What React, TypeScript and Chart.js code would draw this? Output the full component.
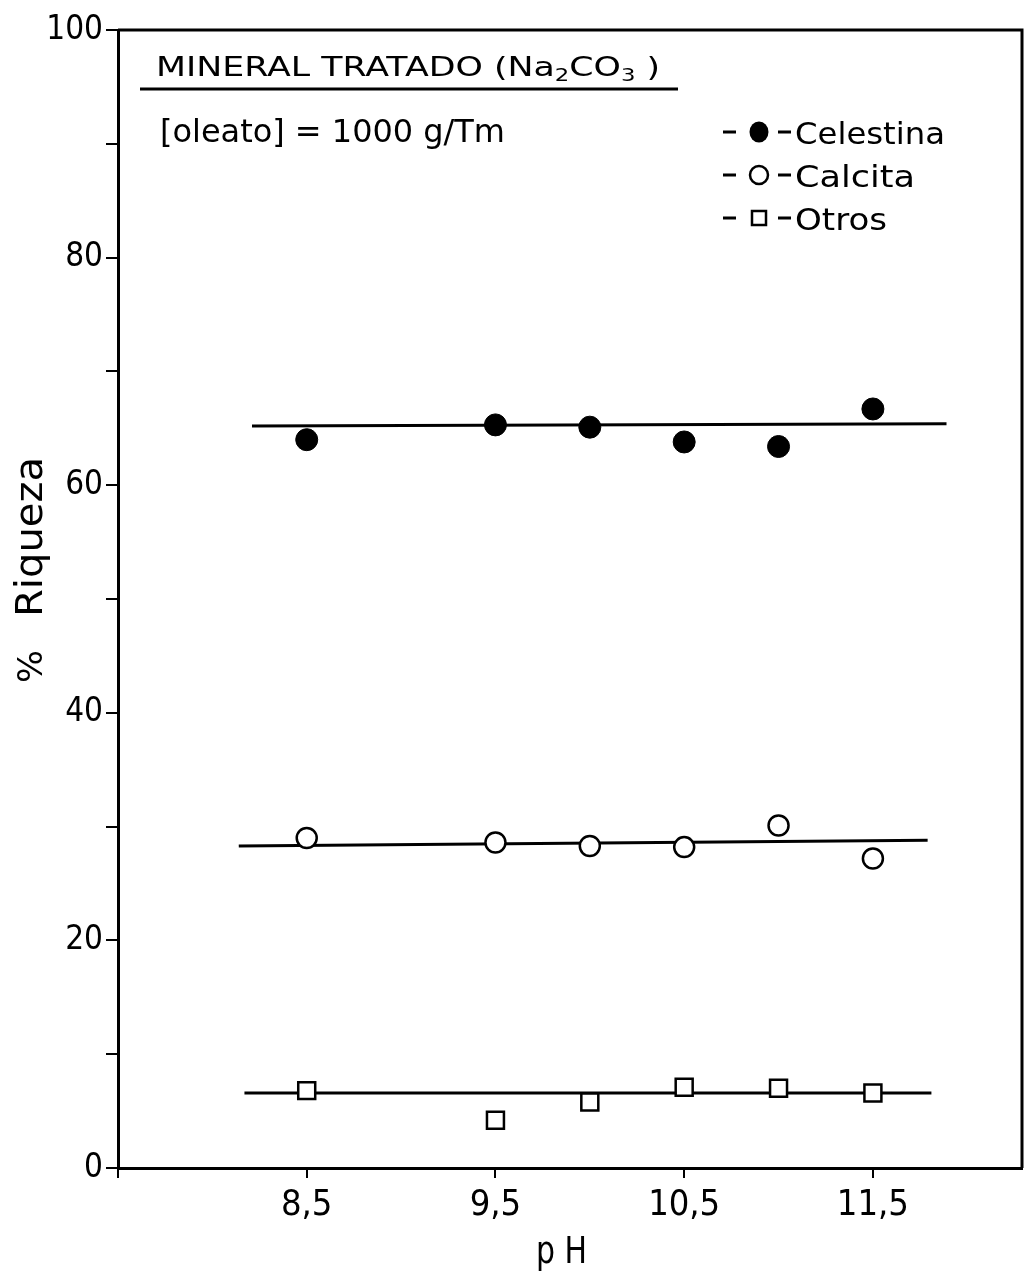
import React, { useEffect, useRef } from "react";
import { Chart, registerables } from "chart.js";

Chart.register(...registerables);

// ---- data ----
const phValues = [8.5, 9.5, 10.0, 10.5, 11.0, 11.5];
const celestina = [64.0, 65.3, 65.1, 63.8, 63.4, 66.7];
const calcita = [29.0, 28.6, 28.3, 28.2, 30.1, 27.2];
const otros = [6.8, 4.2, 5.8, 7.1, 7.0, 6.6];

const celestinaFitX = [8.21, 11.89];
const celestinaFitY = [65.2, 65.4];
const calcitaFitX = [8.14, 11.79];
const calcitaFitY = [28.3, 28.8];
const otrosFitX = [8.17, 11.81];
const otrosFitY = [6.6, 6.6];

const xTicks = [7.5, 8.5, 9.5, 10.5, 11.5];
const xTickLabels = ["", "8,5", "9,5", "10,5", "11,5"];
const yLabelledTicks = [0, 20, 40, 60, 80, 100];

const legendLabels = ["Celestina", "Calcita", "Otros"];
const xTitle = "p H";
const yTitlePct = "%";
const yTitleWord = "Riqueza";
const noteLine2 = "[oleato] = 1000 g/Tm";

const FONT = "'DejaVu Sans Condensed', 'Liberation Sans Narrow', 'DejaVu Sans', sans-serif";
const TFONT = "'DejaVu Sans', sans-serif";

type Seg = { t: string; size: number; dy: number };

function fitText(ctx: CanvasRenderingContext2D, segs: Seg[], x: number, y: number, w: number, family: string) {
  let total = 0;
  for (const s of segs) {
    ctx.font = `${s.size}px ${family}`;
    total += ctx.measureText(s.t).width;
  }
  const sx = w / total;
  ctx.save();
  ctx.translate(x, y);
  ctx.scale(sx, 1);
  ctx.textAlign = "left";
  ctx.textBaseline = "alphabetic";
  let cx = 0;
  for (const s of segs) {
    ctx.font = `${s.size}px ${family}`;
    ctx.fillText(s.t, cx, s.dy);
    cx += ctx.measureText(s.t).width;
  }
  ctx.restore();
}

const annotPlugin = {
  id: "annot",
  afterDraw(chart: any) {
    const ctx: CanvasRenderingContext2D = chart.ctx;
    const { left, right, top, bottom } = chart.chartArea;
    ctx.save();
    ctx.fillStyle = "#000";
    ctx.strokeStyle = "#000";
    // frame top & right
    ctx.lineWidth = 3;
    ctx.beginPath();
    ctx.moveTo(left, top);
    ctx.lineTo(right, top);
    ctx.lineTo(right, bottom);
    ctx.stroke();

    // title
    fitText(
      ctx,
      [
        { t: "MINERAL TRATADO (Na", size: 26, dy: 0 },
        { t: "2", size: 17, dy: 5 },
        { t: "CO", size: 26, dy: 0 },
        { t: "3", size: 17, dy: 5 },
        { t: " )", size: 26, dy: 0 },
      ],
      156,
      76,
      504,
      TFONT
    );
    ctx.lineWidth = 3;
    ctx.beginPath();
    ctx.moveTo(140, 89);
    ctx.lineTo(678, 89);
    ctx.stroke();

    fitText(ctx, [{ t: noteLine2, size: 32, dy: 0 }], 160, 142, 345, TFONT);

    // legend
    const rows = [132, 175, 218];
    const widths = [150, 120, 92];
    rows.forEach((cy, i) => {
      ctx.lineWidth = 3;
      ctx.beginPath();
      ctx.moveTo(723, cy);
      ctx.lineTo(736, cy);
      ctx.moveTo(778, cy);
      ctx.lineTo(791, cy);
      ctx.stroke();
      const mx = 759;
      if (i === 0) {
        ctx.beginPath();
        ctx.ellipse(mx, cy, 9.5, 10.5, 0, 0, Math.PI * 2);
        ctx.fill();
      } else if (i === 1) {
        ctx.lineWidth = 2.5;
        ctx.beginPath();
        ctx.arc(mx, cy, 9, 0, Math.PI * 2);
        ctx.stroke();
      } else {
        ctx.lineWidth = 2.5;
        ctx.strokeRect(mx - 7, cy - 7, 14, 14);
      }
      fitText(ctx, [{ t: legendLabels[i], size: 31, dy: 0 }], 795, cy + 12, widths[i], TFONT);
    });

    // axis titles
    ctx.save();
    ctx.translate(42, 570);
    ctx.rotate(-Math.PI / 2);
    fitText(ctx, [{ t: yTitlePct, size: 34, dy: 0 }], -113, 0, 33, TFONT);
    fitText(ctx, [{ t: yTitleWord, size: 37, dy: 0 }], -47, 0, 160, TFONT);
    ctx.restore();

    fitText(ctx, [{ t: xTitle, size: 38, dy: 0 }], 536, 1263, 51, TFONT);

    ctx.restore();
  },
};

export default function App() {
  const ref = useRef<HTMLCanvasElement | null>(null);

  useEffect(() => {
    if (!ref.current) return;
    const pts = (ys: number[]) => phValues.map((x, i) => ({ x, y: ys[i] }));
    const fit = (xs: number[], ys: number[]) => xs.map((x, i) => ({ x, y: ys[i] }));
    const lineDs = (data: any) => ({
      type: "line" as const,
      data,
      showLine: true,
      borderColor: "#000",
      borderWidth: 3,
      pointRadius: 0,
      fill: false,
      order: 2,
    });
    const chart = new Chart(ref.current, {
      type: "scatter",
      data: {
        datasets: [
          lineDs(fit(celestinaFitX, celestinaFitY)),
          lineDs(fit(calcitaFitX, calcitaFitY)),
          lineDs(fit(otrosFitX, otrosFitY)),
          {
            label: legendLabels[0],
            data: pts(celestina),
            pointStyle: "circle",
            pointRadius: 11,
            backgroundColor: "#000",
            borderColor: "#000",
            borderWidth: 1,
            order: 1,
          },
          {
            label: legendLabels[1],
            data: pts(calcita),
            pointStyle: "circle",
            pointRadius: 10,
            backgroundColor: "#fff",
            borderColor: "#000",
            borderWidth: 2.5,
            order: 1,
          },
          {
            label: legendLabels[2],
            data: pts(otros),
            pointStyle: "rect",
            pointRadius: 12,
            backgroundColor: "#fff",
            borderColor: "#000",
            borderWidth: 2.5,
            order: 1,
          },
        ] as any,
      },
      options: {
        animation: false,
        responsive: false,
        maintainAspectRatio: false,
        layout: { autoPadding: false, padding: { top: 30, right: 4, left: 0, bottom: 0 } },
        plugins: { legend: { display: false }, tooltip: { enabled: false } },
        scales: {
          x: {
            type: "linear",
            min: 7.5,
            max: 12.29,
            afterBuildTicks: (s: any) => {
              s.ticks = xTicks.map((v) => ({ value: v }));
            },
            ticks: {
              autoSkip: false,
              maxRotation: 0,
              color: "#000",
              padding: 6,
              font: { family: FONT, size: 36 },
              callback: (v: any) => {
                const i = xTicks.indexOf(Number(v));
                return i >= 0 ? xTickLabels[i] : "";
              },
            },
            grid: { drawOnChartArea: false, drawTicks: true, tickLength: 10, color: "#000", lineWidth: 2 },
            border: { display: true, color: "#000", width: 3 },
            afterFit: (s: any) => {
              s.height = 118;
              s.paddingLeft = 0;
              s.paddingRight = 0;
            },
          },
          y: {
            min: 0,
            max: 100,
            ticks: {
              stepSize: 10,
              color: "#000",
              padding: 3,
              font: { family: FONT, size: 33 },
              callback: (v: any) => (yLabelledTicks.includes(Number(v)) ? String(v) : ""),
            },
            grid: { drawOnChartArea: false, drawTicks: true, tickLength: 12, color: "#000", lineWidth: 2 },
            border: { display: true, color: "#000", width: 3 },
            afterFit: (s: any) => {
              s.width = 118;
              s.paddingTop = 0;
              s.paddingBottom = 0;
            },
          },
        },
      } as any,
      plugins: [annotPlugin],
    });
    return () => chart.destroy();
  }, []);

  return (
    <div style={{ position: "absolute", left: 0, top: 0, width: 1026, height: 1286, background: "#fff" }}>
      <canvas ref={ref} width={1026} height={1286} style={{ display: "block", width: 1026, height: 1286 }} />
    </div>
  );
}
